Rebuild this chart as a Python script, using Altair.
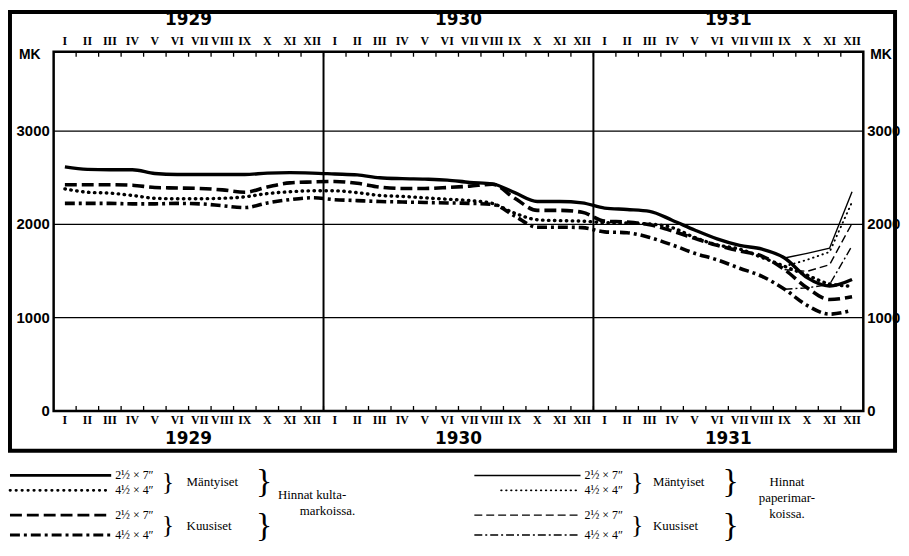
import altair as alt
import pandas as pd

# ---------------- data ----------------
ROMAN = ["I", "II", "III", "IV", "V", "VI", "VII", "VIII", "IX", "X", "XI", "XII"]
YEARS = ["1929", "1930", "1931"]
Y_TICKS = [0, 1000, 2000, 3000]
GRID_VALUES = [1000, 2000, 3000]

# gold-mark prices, monthly Jan 1929 .. Dec 1931
MANT_27_GOLD = [2617, 2590, 2585, 2585, 2545, 2535, 2535, 2535, 2535, 2550, 2555, 2550,
                2540, 2530, 2500, 2490, 2485, 2475, 2450, 2435, 2340, 2245, 2245, 2230,
                2175, 2160, 2140, 2045, 1940, 1845, 1775, 1735, 1640, 1430, 1340, 1410]
MANT_44_GOLD = [2380, 2345, 2335, 2310, 2280, 2275, 2275, 2280, 2295, 2330, 2350, 2360,
                2360, 2340, 2310, 2300, 2285, 2270, 2255, 2225, 2120, 2050, 2040, 2035,
                2018, 2014, 2004, 1965, 1860, 1780, 1735, 1645, 1550, 1455, 1362, 1337]
KUUS_27_GOLD = [2425, 2425, 2425, 2420, 2395, 2390, 2385, 2370, 2345, 2400, 2445, 2455,
                2460, 2440, 2400, 2385, 2385, 2395, 2410, 2430, 2280, 2150, 2150, 2130,
                2035, 2025, 1995, 1930, 1850, 1775, 1715, 1660, 1515, 1320, 1195, 1225]
KUUS_44_GOLD = [2225, 2225, 2225, 2220, 2220, 2225, 2220, 2200, 2180, 2230, 2265, 2285,
                2265, 2255, 2245, 2240, 2235, 2230, 2225, 2215, 2090, 1970, 1970, 1965,
                1920, 1910, 1860, 1780, 1690, 1620, 1530, 1443, 1305, 1132, 1038, 1078]

# paper-mark prices, Sep .. Dec 1931
PAPER_MONTHS = ["IX", "X", "XI", "XII"]
MANT_27_PAPER = [1640, 1690, 1745, 2350]
MANT_44_PAPER = [1550, 1620, 1705, 2240]
KUUS_27_PAPER = [1515, 1497, 1567, 2011]
KUUS_44_PAPER = [1305, 1320, 1355, 1770]

# ---------------- layout ----------------
W, H = 816, 362
OX, OY = 54, 50          # page position of plot origin
SERIF = "Liberation Serif"
SANS = "DejaVu Sans"

n_months = len(ROMAN) * len(YEARS)
xs = alt.Scale(domain=[-0.5, n_months - 0.5], nice=False, zero=False)
ys = alt.Scale(domain=[0, 3850], nice=False, zero=False)
X = lambda f="m": alt.X(f"{f}:Q", scale=xs, axis=None)
Y = lambda f="v": alt.Y(f"{f}:Q", scale=ys, axis=None)

one = pd.DataFrame({"a": [0]})

months_df = pd.DataFrame({"m": list(range(n_months)),
                          "lab": ROMAN * len(YEARS)})
years_df = pd.DataFrame({"m": [i * 12 + 5.5 for i in range(len(YEARS))], "lab": YEARS})
div_df = pd.DataFrame({"m": [i * 12 - 0.5 for i in range(1, len(YEARS))]})
tick_df = pd.DataFrame({"m": [k + 0.5 for k in range(n_months - 1)]})
grid_df = pd.DataFrame({"v": GRID_VALUES})
ylab_df = pd.DataFrame({"v": Y_TICKS, "lab": [str(t) for t in Y_TICKS]})

layers = []

# grid lines and year dividers
layers.append(alt.Chart(grid_df).mark_rule(color="black", strokeWidth=1.4).encode(y=Y()))
layers.append(alt.Chart(div_df).mark_rule(color="black", strokeWidth=2).encode(x=X()))

# inward ticks
layers.append(alt.Chart(tick_df).mark_rule(color="black", strokeWidth=1.3).encode(
    x=X(), y=alt.value(0), y2=alt.value(5)))
layers.append(alt.Chart(tick_df).mark_rule(color="black", strokeWidth=1.3).encode(
    x=X(), y=alt.value(H), y2=alt.value(H - 5)))

# month labels top / bottom
for yy in (39 - OY, 421 - OY):
    layers.append(alt.Chart(months_df).mark_text(
        font=SERIF, fontWeight="bold", fontSize=12, baseline="middle").encode(
        x=X(), y=alt.value(yy), text="lab:N"))

# year labels top / bottom
for yy in (18 - OY, 440 - OY):
    layers.append(alt.Chart(years_df).mark_text(
        font=SANS, fontWeight="bold", fontSize=17, baseline="middle").encode(
        x=X(), y=alt.value(yy), text="lab:N"))

# y labels left / right
layers.append(alt.Chart(ylab_df).mark_text(
    font="Liberation Sans", fontWeight="bold", fontSize=15, align="right", baseline="middle").encode(
    y=Y(), x=alt.value(-4), text="lab:N"))
layers.append(alt.Chart(ylab_df).mark_text(
    font="Liberation Sans", fontWeight="bold", fontSize=15, align="left", baseline="middle").encode(
    y=Y(), x=alt.value(W + 4), text="lab:N"))


def txt(s, px, py, size=12, align="left", font=SERIF, weight="normal"):
    return alt.Chart(one).mark_text(text=s, align=align, baseline="middle", font=font,
                                    fontSize=size, fontWeight=weight, color="black").encode(
        x=alt.value(px - OX), y=alt.value(py - OY))


layers.append(txt("MK", 30, 53, size=14, align="center", font="Liberation Sans", weight="bold"))
layers.append(txt("MK", 877, 53, size=14, align="left", font="Liberation Sans", weight="bold"))


# series
def line_layer(values, months, width, dash=None, cap="butt", interp="monotone"):
    df = pd.DataFrame({"m": months, "v": values})
    kw = dict(color="black", strokeWidth=width, strokeCap=cap, interpolate=interp)
    if dash:
        kw["strokeDash"] = dash
    return alt.Chart(df).mark_line(**kw).encode(x=X(), y=Y())


all_m = list(range(n_months))
paper_m = [ROMAN.index(p) + 24 for p in PAPER_MONTHS]

GOLD_STYLES = [
    (MANT_27_GOLD, 3.4, None, "butt"),
    (MANT_44_GOLD, 3.4, [0.5, 5.5], "round"),
    (KUUS_27_GOLD, 3.6, [12, 5], "butt"),
    (KUUS_44_GOLD, 3.6, [10, 4, 3, 4], "butt"),
]
PAPER_STYLES = [
    (MANT_27_PAPER, 1.4, None, "butt"),
    (MANT_44_PAPER, 1.9, [0.5, 4.5], "round"),
    (KUUS_27_PAPER, 1.4, [8, 4], "butt"),
    (KUUS_44_PAPER, 1.4, [8, 3, 2, 3], "butt"),
]
for vals, w, d, c in PAPER_STYLES:
    layers.append(line_layer(vals, paper_m, w, d, c, interp="linear"))
for vals, w, d, c in GOLD_STYLES:
    layers.append(line_layer(vals, all_m, w, d, c))

# outer frame
layers.append(alt.Chart(one).mark_rect(filled=False, stroke="black", strokeWidth=4).encode(
    x=alt.value(10 - OX), x2=alt.value(902 - OX), y=alt.value(10 - OY), y2=alt.value(452 - OY)))


# legend
def seg(px1, px2, py, width, dash=None, cap="butt"):
    kw = dict(color="black", strokeWidth=width, strokeCap=cap)
    if dash:
        kw["strokeDash"] = dash
    return alt.Chart(one).mark_rule(**kw).encode(
        x=alt.value(px1 - OX), x2=alt.value(px2 - OX), y=alt.value(py - OY))


ROWS = [477, 492, 517, 537]
DIMS = ["2½ × 7″", "4½ × 4″", "2½ × 7″", "4½ × 4″"]

# gold legend
for (vals, w, d, c), ry in zip(GOLD_STYLES, ROWS):
    layers.append(seg(10, 112, ry, w * 0.8, d, c))
for s, ry in zip(DIMS, ROWS):
    layers.append(txt(s, 116, ry, size=12))
layers.append(txt("}", 163, 484, size=26))
layers.append(txt("}", 163, 527, size=26))
layers.append(txt("Mäntyiset", 188, 484, size=13))
layers.append(txt("Kuusiset", 188, 528, size=13))
layers.append(txt("}", 258, 484, size=34))
layers.append(txt("}", 258, 528, size=34))
layers.append(txt("Hinnat kulta-", 280, 497, size=13))
layers.append(txt("markoissa.", 330, 513, size=13, align="center"))

# paper legend
pstarts = [478, 505, 478, 478]
for (vals, w, d, c), ry, x0 in zip(PAPER_STYLES, ROWS, pstarts):
    layers.append(seg(x0, 585, ry, w, d, c))
for s, ry in zip(DIMS, ROWS):
    layers.append(txt(s, 589, ry, size=12))
layers.append(txt("}", 636, 484, size=26))
layers.append(txt("}", 636, 527, size=26))
layers.append(txt("Mäntyiset", 658, 484, size=13))
layers.append(txt("Kuusiset", 658, 528, size=13))
layers.append(txt("}", 728, 484, size=34))
layers.append(txt("}", 728, 528, size=34))
layers.append(txt("Hinnat", 793, 484, size=13, align="center"))
layers.append(txt("paperimar-", 793, 500, size=13, align="center"))
layers.append(txt("koissa.", 793, 516, size=13, align="center"))

chart = alt.layer(*layers).properties(
    width=W, height=H,
    autosize=alt.AutoSizeParams(type="none"),
    padding={"left": OX - 8, "top": OY - 8, "right": 38, "bottom": 140},
    background="white",
).configure_view(stroke="black", strokeWidth=2.5)

chart.save("out.html", embed_options={"renderer": "svg", "actions": False})
